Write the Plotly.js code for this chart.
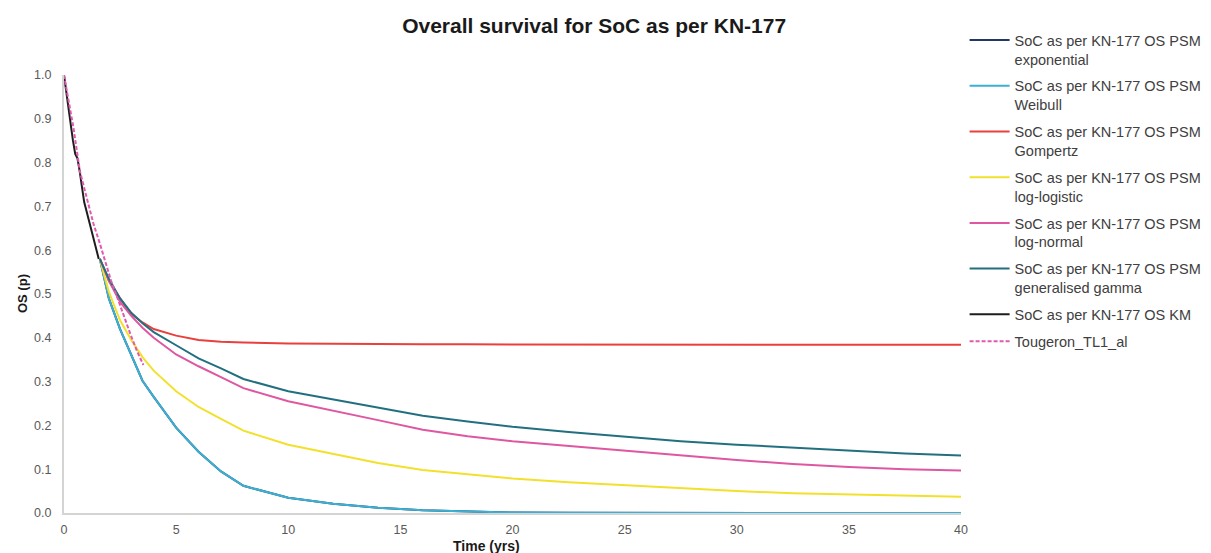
<!DOCTYPE html>
<html>
<head>
<meta charset="utf-8">
<script src="https://cdn.plot.ly/plotly-3.0.1.min.js"></script>
<style>html,body{margin:0;padding:0;background:#fff;}#chart{width:1211px;height:553px;}</style>
</head>
<body>
<div id="chart"></div>
<script>
// ---- data ----
var kmTime = [0, 0.1, 0.2, 0.3, 0.4, 0.5, 0.6, 0.7, 0.8, 0.9, 1.0, 1.1, 1.2, 1.3, 1.4, 1.5, 1.55];
var kmOS   = [1.0, 0.96, 0.92, 0.88, 0.85, 0.82, 0.81, 0.78, 0.74, 0.71, 0.69, 0.67, 0.65, 0.63, 0.61, 0.59, 0.58];

var tougeronTime = [0, 0.2, 0.42, 0.71, 1.0, 1.31, 1.6, 1.83, 2.1, 2.42, 2.7, 2.95, 3.25, 3.54];
var tougeronOS   = [1.0, 0.94, 0.88, 0.78, 0.72, 0.661, 0.615, 0.578, 0.53, 0.486, 0.445, 0.41, 0.37, 0.338];

var modelTime = [1.6, 2, 2.5, 3, 3.5, 4, 5, 6, 7, 8, 10, 12, 14, 16, 18, 20, 22.5, 25, 27.5, 30, 32.5, 35, 37.5, 40];
var expOS      = [0.58, 0.49, 0.42, 0.36, 0.302, 0.265, 0.195, 0.14, 0.095, 0.062, 0.035, 0.021, 0.012, 0.006, 0.003, 0.001, 0.0005, 0.0002, 0, 0, 0, 0, 0, 0];
var weibullOS  = [0.58, 0.49, 0.42, 0.36, 0.302, 0.265, 0.195, 0.14, 0.095, 0.062, 0.035, 0.021, 0.012, 0.006, 0.003, 0.001, 0.0005, 0.0002, 0, 0, 0, 0, 0, 0];
var gompertzOS = [0.58, 0.53, 0.49, 0.455, 0.435, 0.42, 0.405, 0.395, 0.391, 0.389, 0.387, 0.386, 0.385, 0.385, 0.385, 0.385, 0.385, 0.384, 0.384, 0.384, 0.384, 0.384, 0.384, 0.384];
var loglogOS   = [0.58, 0.505, 0.44, 0.395, 0.356, 0.325, 0.278, 0.242, 0.215, 0.188, 0.156, 0.135, 0.114, 0.098, 0.088, 0.079, 0.07, 0.063, 0.056, 0.05, 0.045, 0.042, 0.039, 0.037];
var lognormOS  = [0.58, 0.53, 0.482, 0.45, 0.423, 0.40, 0.362, 0.335, 0.31, 0.285, 0.255, 0.234, 0.212, 0.19, 0.175, 0.164, 0.153, 0.142, 0.131, 0.121, 0.112, 0.105, 0.1, 0.097];
var gengamOS   = [0.58, 0.535, 0.49, 0.457, 0.433, 0.413, 0.383, 0.353, 0.33, 0.306, 0.278, 0.259, 0.24, 0.222, 0.209, 0.197, 0.185, 0.175, 0.164, 0.156, 0.149, 0.142, 0.136, 0.131];

var seriesNames = [
  'SoC as per KN-177 OS PSM<br>exponential',
  'SoC as per KN-177 OS PSM<br>Weibull',
  'SoC as per KN-177 OS PSM<br>Gompertz',
  'SoC as per KN-177 OS PSM<br>log-logistic',
  'SoC as per KN-177 OS PSM<br>log-normal',
  'SoC as per KN-177 OS PSM<br>generalised gamma',
  'SoC as per KN-177 OS KM',
  'Tougeron_TL1_al'
];
var xTicks = [0, 5, 10, 15, 20, 25, 30, 35, 40];
var yTicks = [0, 0.1, 0.2, 0.3, 0.4, 0.5, 0.6, 0.7, 0.8, 0.9, 1.0];

function line(x, y, name, color, dash, g) {
  return {x: x, y: y, name: name, type: 'scatter', mode: 'lines', legendgroup: g,
          line: {color: color, width: 2, dash: dash || 'solid'}, hoverinfo: 'skip'};
}

var traces = [
  line(modelTime, expOS, seriesNames[0], '#203864', null, 'g0'),
  line(modelTime, weibullOS, seriesNames[1], '#3cb0d2', null, 'g1'),
  line(modelTime, gompertzOS, seriesNames[2], '#e8403e', null, 'g2'),
  line(modelTime, loglogOS, seriesNames[3], '#f2e12c', null, 'g3'),
  line(modelTime, lognormOS, seriesNames[4], '#df57a0', null, 'g4'),
  line(modelTime, gengamOS, seriesNames[5], '#22707f', null, 'g5'),
  line(kmTime, kmOS, seriesNames[6], '#1e1e1e', null, 'g6'),
  line(tougeronTime, tougeronOS, seriesNames[7], '#e05aaf', '4px,2px', 'g7')
];

var layout = {
  width: 1211, height: 553,
  margin: {l: 64, r: 250, t: 75, b: 40, autoexpand: false},
  paper_bgcolor: '#ffffff', plot_bgcolor: '#ffffff',
  font: {family: 'Liberation Sans, Arial, sans-serif', color: '#595959', size: 12},
  title: {text: '<b>Overall survival for SoC as per KN-177</b>',
          font: {family: 'Liberation Sans, Arial, sans-serif', size: 21, color: '#1a1a1a'},
          x: 0.591, xref: 'paper', xanchor: 'center', y: 0.953, yanchor: 'middle'},
  xaxis: {range: [0, 40], tickvals: xTicks, ticktext: xTicks.map(String),
          showgrid: false, zeroline: false, showline: true, linecolor: '#d4d4d4', linewidth: 2,
          ticks: '', ticklabelstandoff: 4, tickfont: {size: 12.5, color: '#595959'}},
  yaxis: {range: [0, 1.0], tickvals: yTicks, ticktext: yTicks.map(function(v){return v.toFixed(1);}),
          showgrid: false, zeroline: false, showline: true, linecolor: '#d4d4d4', linewidth: 2,
          ticks: '', ticklabelstandoff: 8, tickfont: {size: 12.5, color: '#595959'}},
  annotations: [
    {text: '<b>Time (yrs)</b>', xref: 'paper', yref: 'paper', x: 0.4705, y: -0.0753,
     xanchor: 'center', yanchor: 'middle', showarrow: false, font: {size: 14, color: '#1a1a1a'}},
    {text: '<b>OS (p)</b>', xref: 'paper', yref: 'paper', x: -0.0468, y: 0.5, textangle: -90,
     xanchor: 'center', yanchor: 'middle', showarrow: false, font: {size: 13, color: '#1a1a1a'}}
  ],
  showlegend: true,
  legend: {x: 1.004, xanchor: 'left', y: 1.116, yanchor: 'top', valign: 'top',
           traceorder: 'grouped', tracegroupgap: 5, itemwidth: 40, maxheight: 520,
           font: {size: 14.5, color: '#404040'}, bgcolor: 'rgba(0,0,0,0)'}
};

Plotly.newPlot('chart', traces, layout, {displayModeBar: false, staticPlot: true});
</script>
</body>
</html>
